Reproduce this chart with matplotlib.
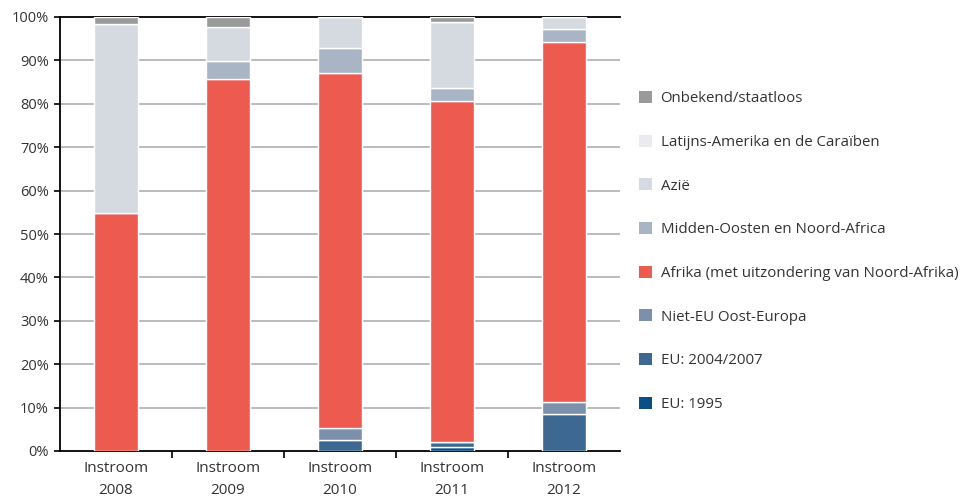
import matplotlib.pyplot as plt
from matplotlib.patches import Patch
import numpy as np

plt.rcParams['font.family'] = ['Open Sans', 'DejaVu Sans']

# Data (percent of inflow per year)
years = ['Instroom\n2008', 'Instroom\n2009', 'Instroom\n2010', 'Instroom\n2011', 'Instroom\n2012']
eu_1995 = [0, 0, 0, 0.85, 0]
eu_2004 = [0, 0, 2.5, 1.15, 8.5]
niet_eu = [0, 0, 2.9, 0, 2.8]
afrika = [54.8, 85.7, 81.7, 78.6, 82.9]
midden_oosten = [0, 4.2, 5.8, 3.0, 3.0]
azie = [43.6, 7.9, 7.1, 15.2, 2.8]
latijns = [0, 0, 0, 0, 0]
onbekend = [1.6, 2.2, 0, 1.2, 0]

series = [
    ('EU: 1995', eu_1995, '#0b4f87'),
    ('EU: 2004/2007', eu_2004, '#3d6891'),
    ('Niet-EU Oost-Europa', niet_eu, '#7c8fab'),
    ('Afrika (met uitzondering van Noord-Afrika)', afrika, '#ec5a50'),
    ('Midden-Oosten en Noord-Africa', midden_oosten, '#a9b4c4'),
    ('Azië', azie, '#d5dae1'),
    ('Latijns-Amerika en de Caraïben', latijns, '#e9ebef'),
    ('Onbekend/staatloos', onbekend, '#9a9a9a'),
]

fig = plt.figure(figsize=(9.65, 5), dpi=100)
ax = fig.add_axes([0.0622, 0.098, 0.58, 0.868])

x = np.arange(len(years))
bottom = np.zeros(len(years))
for name, vals, col in series:
    ax.bar(x, vals, 0.39, bottom=bottom, color=col, edgecolor='white',
           linewidth=1.0, zorder=3)
    bottom += np.array(vals)

ax.set_xlim(-0.5, len(years) - 0.5)
ax.set_ylim(0, 100)
ax.set_yticks(range(0, 101, 10))
ax.set_yticklabels([f'{v}%' for v in range(0, 101, 10)], fontsize=10.5, color='#333333')
for v in range(10, 100, 10):
    ax.axhline(v, color='#b5b5b5', lw=1.3, zorder=1)

ax.set_xticks(x)
ax.set_xticklabels(years, fontsize=11, color='#333333', linespacing=1.7)
ax.tick_params(axis='x', length=0, pad=7)
ax.set_xticks(np.arange(0.5, len(years) - 1, 1), minor=True)
ax.tick_params(axis='x', which='minor', length=5, width=1.2, color='black', direction='out')
ax.tick_params(axis='y', length=4, width=1.2, color='black', direction='out', pad=4)

for s in ['left', 'bottom', 'top']:
    ax.spines[s].set_linewidth(1.3)
    ax.spines[s].set_color('black')
ax.spines['right'].set_visible(False)

handles = [Patch(facecolor=col, edgecolor='none', label=name) for name, vals, col in series[::-1]]
fig.legend(handles=handles, loc='center left', bbox_to_anchor=(0.648, 0.497),
           frameon=False, fontsize=10.8, handlelength=0.85, handleheight=0.85,
           handletextpad=0.6, labelspacing=1.9, labelcolor='#333333')

fig.savefig('out.png', dpi=100)
